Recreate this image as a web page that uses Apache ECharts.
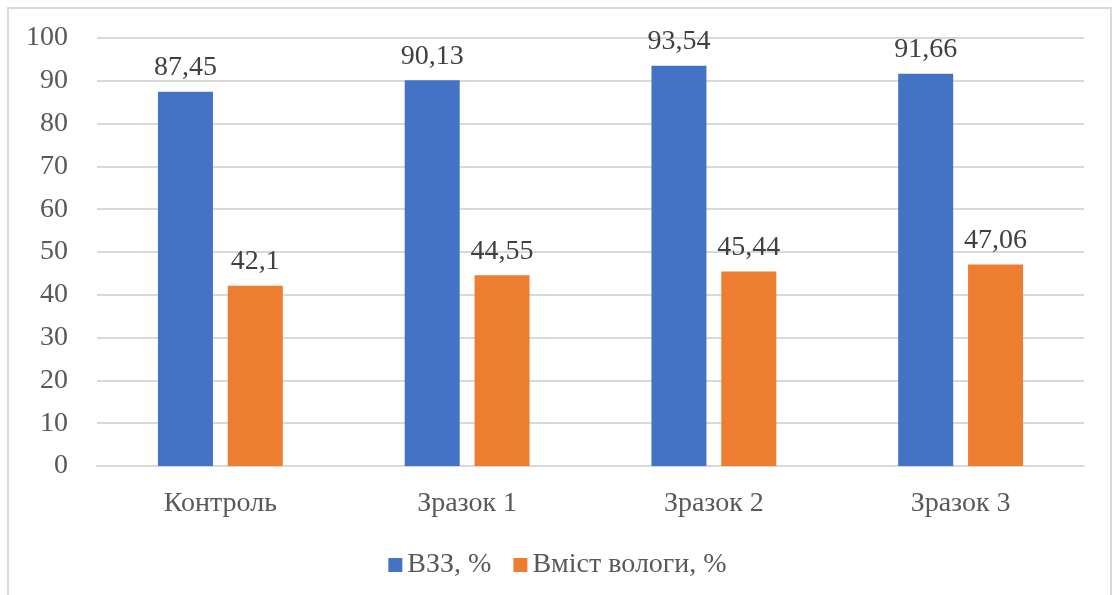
<!DOCTYPE html>
<html>
<head>
<meta charset="utf-8">
<script src="https://cdn.jsdelivr.net/npm/echarts@6/dist/echarts.min.js"></script>
<style>
  html, body { margin: 0; padding: 0; background: #ffffff; }
  #chart { width: 1115px; height: 595px; }
</style>
</head>
<body>
<div id="chart"></div>
<script>
// Samples and measured values
const categories = ['Контроль', 'Зразок 1', 'Зразок 2', 'Зразок 3'];
const seriesNames = ['ВЗЗ, %', 'Вміст вологи, %'];
const vzzValues = [87.45, 90.13, 93.54, 91.66];
const moistureValues = [42.1, 44.55, 45.44, 47.06];

const FONT = 'Liberation Serif';
const TEXT_COLOR = '#595959';
const GRID_COLOR = '#d9d9d9';

// Values are printed with a decimal comma
const fmt = v => String(v).replace('.', ',');

const chart = echarts.init(document.getElementById('chart'), null, { renderer: 'canvas' });

chart.setOption({
  animation: false,
  backgroundColor: '#ffffff',
  textStyle: { fontFamily: FONT },
  graphic: [{
    type: 'rect',
    shape: { x: 8, y: 8, width: 1103, height: 600 },
    style: { fill: 'none', stroke: GRID_COLOR, lineWidth: 2 },
    z: -10
  }],
  grid: { left: 97, right: 31, top: 38, bottom: 129, containLabel: false },
  legend: {
    bottom: 11,
    left: 'center',
    itemWidth: 14,
    itemHeight: 14,
    itemGap: 22,
    icon: 'rect',
    textStyle: { fontFamily: FONT, fontSize: 28, color: TEXT_COLOR },
    data: seriesNames
  },
  xAxis: {
    type: 'category',
    data: categories,
    axisLine: { show: true, lineStyle: { color: GRID_COLOR, width: 2 } },
    axisTick: { show: false },
    axisLabel: { fontFamily: FONT, fontSize: 28, color: TEXT_COLOR, margin: 24 }
  },
  yAxis: {
    type: 'value',
    min: 0,
    max: 100,
    interval: 10,
    axisLine: { show: false },
    axisTick: { show: false },
    axisLabel: { fontFamily: FONT, fontSize: 28, color: TEXT_COLOR, margin: 29 },
    splitLine: { lineStyle: { color: GRID_COLOR, width: 2 } }
  },
  series: [
    {
      name: seriesNames[0],
      type: 'bar',
      data: vzzValues,
      barWidth: 55,
      barGap: '27%',
      itemStyle: { color: '#4472c4' },
      label: {
        show: true, position: 'top', distance: 10,
        fontFamily: FONT, fontSize: 28, color: '#404040',
        formatter: p => fmt(p.value)
      }
    },
    {
      name: seriesNames[1],
      type: 'bar',
      data: moistureValues,
      barWidth: 55,
      barGap: '27%',
      itemStyle: { color: '#ed7d31' },
      label: {
        show: true, position: 'top', distance: 10,
        fontFamily: FONT, fontSize: 28, color: '#404040',
        formatter: p => fmt(p.value)
      }
    }
  ]
});
</script>
</body>
</html>
